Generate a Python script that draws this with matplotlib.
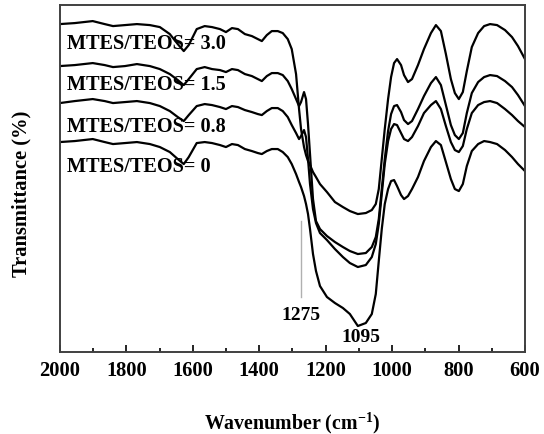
import matplotlib.pyplot as plt
from matplotlib.ticker import MultipleLocator

plt.rcParams['font.family'] = 'Liberation Serif'
plt.rcParams['font.weight'] = 'bold'
plt.rcParams['mathtext.fontset'] = 'custom'
plt.rcParams['mathtext.rm'] = 'Liberation Serif:bold'
plt.rcParams['mathtext.bf'] = 'Liberation Serif:bold'

# wavenumber grid (cm-1), shared by all spectra
wavenumber = [2000, 1955, 1901, 1865, 1840, 1804, 1768, 1729, 1699, 1669,
              1645, 1627, 1612, 1588, 1564, 1542, 1518, 1500, 1482, 1464,
              1443, 1422, 1404, 1392, 1377, 1362, 1344, 1329, 1314, 1302,
              1289, 1280, 1274, 1265, 1259, 1253, 1247, 1238, 1229, 1217,
              1196, 1172, 1148, 1127, 1103, 1079, 1061, 1049, 1040, 1031,
              1022, 1012, 1003, 994, 985, 973, 964, 952, 940, 922,
              904, 883, 868, 853, 838, 823, 811, 799, 787, 775,
              760, 741, 723, 705, 684, 660, 639, 621, 600]

# transmittance (arbitrary units, spectra offset vertically)
t_30 = [328, 329, 331, 328, 326, 327, 328, 327, 325, 318,
        308, 301, 307, 323, 326, 325, 323, 320, 324, 323,
        318, 316, 313, 311, 317, 321, 321, 319, 313, 303,
        278, 243, 223, 205, 197, 191, 187, 180, 175, 168,
        160, 150, 145, 141, 138, 139, 142, 148, 163, 193,
        223, 253, 275, 289, 293, 287, 277, 270, 273, 287,
        303, 319, 327, 321, 298, 273, 259, 253, 260, 281,
        305, 319, 326, 328, 327, 322, 315, 306, 293]
t_15 = [286, 287, 289, 287, 285, 286, 288, 286, 283, 278,
        272, 267, 273, 283, 285, 283, 282, 280, 283, 282,
        278, 276, 273, 271, 276, 279, 279, 277, 271, 263,
        253, 246, 250, 260, 253, 228, 198, 153, 131, 123,
        116, 110, 105, 101, 98, 99, 105, 115, 133, 163,
        193, 221, 238, 246, 247, 240, 232, 228, 231, 243,
        256, 269, 275, 267, 247, 227, 217, 213, 219, 239,
        259, 270, 275, 277, 276, 271, 265, 257, 246]
t_08 = [249, 251, 253, 251, 249, 250, 251, 249, 246, 241,
        235, 231, 237, 246, 248, 247, 245, 243, 246, 245,
        242, 240, 238, 237, 241, 244, 244, 241, 235, 227,
        219, 213, 216, 222, 215, 193, 168, 143, 129, 119,
        112, 103, 95, 89, 85, 87, 95, 108, 128, 158,
        188, 211, 223, 228, 227, 219, 213, 211, 215, 226,
        239, 247, 251, 243, 226, 210, 202, 200, 206, 223,
        239, 247, 250, 251, 249, 243, 237, 231, 225]
t_0 = [210, 211, 213, 210, 208, 209, 210, 208, 205, 200,
       193, 188, 195, 209, 210, 209, 207, 205, 208, 207,
       203, 201, 199, 198, 201, 203, 203, 200, 195, 188,
       178, 170, 165, 156, 148, 138, 123, 98, 81, 66,
       55, 49, 44, 38, 26, 29, 38, 58, 91, 123,
       148, 163, 171, 172, 166, 157, 153, 156, 163, 175,
       191, 205, 211, 207, 190, 173, 163, 161, 168, 186,
       201, 208, 211, 210, 208, 202, 195, 188, 181]

series = [t_30, t_15, t_08, t_0]
labels = ['MTES/TEOS= 3.0', 'MTES/TEOS= 1.5', 'MTES/TEOS= 0.8', 'MTES/TEOS= 0']
label_y = [309, 268, 226, 186]

fig = plt.figure(figsize=(5.44, 4.35), dpi=100)
ax = fig.add_axes([0.110, 0.1885, 0.855, 0.7975])

for t in series:
    ax.plot(wavenumber, t, color='black', lw=1.6)

for lab, y in zip(labels, label_y):
    ax.text(1979, y, lab, fontsize=14.6, fontweight='bold', va='center', ha='left')

# band markers
ax.plot([1275, 1275], [55, 131], color='#b0b0b0', lw=1)
ax.text(1275, 38, '1275', fontsize=14, fontweight='bold', ha='center', va='center')
ax.text(1095, 16, '1095', fontsize=14, fontweight='bold', ha='center', va='center')

ax.set_xlim(2000, 600)
ax.set_ylim(0, 347)
ax.xaxis.set_major_locator(MultipleLocator(200))
ax.xaxis.set_minor_locator(MultipleLocator(100))
ax.tick_params(axis='x', which='both', direction='in', top=False, labelsize=14.8, pad=6)
ax.tick_params(axis='x', which='major', length=5, width=1.2)
ax.tick_params(axis='x', which='minor', length=3, width=1.2)
ax.set_yticks([])
for s in ax.spines.values():
    s.set_linewidth(1.4)
    s.set_color('#404040')

ax.set_xlabel(r'Wavenumber (cm$^{\mathbf{-1}}$)', fontsize=14.3, fontweight='bold')
ax.set_ylabel('Transmittance (%)', fontsize=14.8, fontweight='bold')
ax.xaxis.set_label_coords(0.5, -0.165)
ax.yaxis.set_label_coords(-0.06, 0.46)

fig.savefig('out.png', dpi=100)
